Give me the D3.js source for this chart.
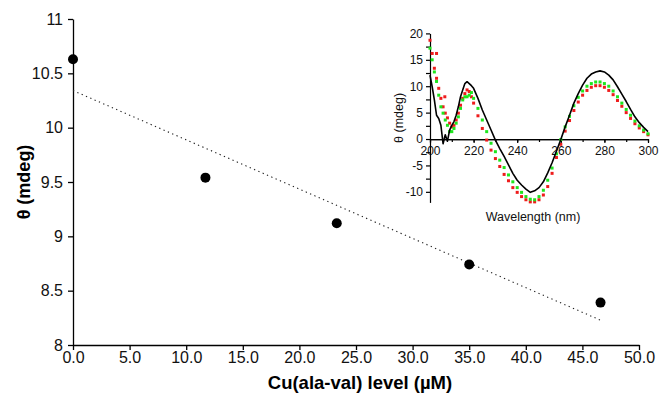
<!DOCTYPE html>
<html>
<head>
<meta charset="utf-8">
<script src="https://cdn.jsdelivr.net/npm/d3@7"></script>
<style>
  body { margin: 0; background: #fff; }
  svg { display: block; font-family: "Liberation Sans", Arial, Helvetica, sans-serif; }
</style>
</head>
<body>
<div id="chart"></div>
<script>
// main chart: theta vs Cu(ala-val) concentration
const concentration = [0, 11.7, 23.3, 35.0, 46.6];
const theta = [10.63, 9.54, 9.12, 8.74, 8.39];
const xTicks = [0, 5, 10, 15, 20, 25, 30, 35, 40, 45, 50];
const yTicks = [8, 8.5, 9, 9.5, 10, 10.5, 11];

// inset: CD spectra
const wavelength = [200, 201, 202, 203, 204, 205, 206, 207, 208, 209, 210, 211, 212, 213, 214, 215, 216, 217, 218, 219, 220,
  222, 224, 226, 228, 230, 232, 234, 236, 238, 240, 242, 244, 246, 248, 250, 252, 254, 256, 258, 260,
  262, 264, 266, 268, 270, 272, 274, 276, 278, 280, 282, 284, 286, 288, 290, 292, 294, 296, 298, 300];
const cdBlack = [12.1, 9.9, 7.4, 4.5, 3.9, 2.6, -0.9, 0.8, -0.4, 1.7, 2.6, 3.3, 4.5, 6.1, 8.0, 9.3, 10.5, 10.85, 10.5, 10.1, 9.6,
  7.7, 5.5, 3.6, 1.7, -0.2, -1.8, -3.3, -4.9, -6.5, -7.8, -8.7, -9.5, -10.1, -9.8, -9.2, -8.1, -6.4, -4.5, -2.3, -0.1,
  2.3, 4.5, 6.8, 8.6, 10.2, 11.5, 12.3, 12.7, 12.9, 12.7, 12.1, 11.2, 9.9, 8.5, 7.1, 5.6, 4.2, 3.1, 2.2, 1.4];
const cdGreen = [17.2, 15, 12.7, 10.9, 8.3, 6.1, 4.9, 3.6, 2.6, 1.4, 1.4, 2, 3, 4.2, 5.8, 7.4, 8, 8, 8.3, 8.8, 7.7,
  5.8, 3.6, 1.4, -0.8, -2.4, -4, -5.4, -6.8, -8.1, -9.2, -10.1, -10.9, -11.4, -11.5, -10.9, -9.7, -7.8, -5.5, -2.8, -0.1,
  2.3, 4.3, 6.3, 7.9, 9.1, 10, 10.5, 10.8, 10.8, 10.5, 10, 9.1, 8, 6.8, 5.6, 4.5, 3.4, 2.5, 1.7, 1.0];
const cdRed = [18.7, 16.2, 13.4, 11.5, 9.6, 7.7, 6.1, 4.9, 4, 3, 2.3, 2.6, 3.6, 4.9, 6.4, 7.7, 8.6, 9.3, 9, 8, 6.8,
  4.4, 2, -0.2, -2.1, -3.7, -5.2, -6.7, -7.9, -9.2, -10.1, -10.9, -11.5, -11.9, -11.9, -11.5, -10.6, -9, -6.5, -3.5, -1,
  1.5, 3.5, 5.4, 7, 8.3, 9.2, 9.8, 10.1, 10.1, 9.8, 9.2, 8.4, 7.3, 6.2, 5, 3.9, 2.9, 2.1, 1.4, 0.8];
const redStrayWl = [203, 206.8];
const redStray = [16.2, 8.0];
const insetXTicks = [200, 220, 240, 260, 280, 300];
const insetYTicks = [-10, -5, 0, 5, 10, 15, 20];

const width = 660, height = 395;

const svg = d3.select('#chart')
  .append('svg')
  .attr('width', width)
  .attr('height', height);

const x = d3.scaleLinear().domain([0, 50]).range([73, 639]);
const y = d3.scaleLinear().domain([8, 11]).range([345, 19]);

// axes
const xAxis = svg.append('g')
  .attr('transform', `translate(0,${y(8)})`)
  .call(d3.axisBottom(x).tickValues(xTicks).tickSize(5).tickSizeOuter(0).tickPadding(2)
    .tickFormat(d3.format('.1f')));

const yAxis = svg.append('g')
  .attr('transform', `translate(${x(0)},0)`)
  .call(d3.axisLeft(y).tickValues(yTicks).tickSize(5).tickSizeOuter(0).tickPadding(5)
    .tickFormat(d => d % 1 ? d.toFixed(1) : d));

[xAxis, yAxis].forEach(g => {
  g.selectAll('path, line').attr('stroke', '#000').attr('stroke-width', 1.3);
  g.selectAll('text').attr('fill', '#111').style('font-size', '16px');
});

// regression line (dotted)
const xm = d3.mean(concentration), ym = d3.mean(theta);
const slope = d3.sum(concentration, (c, i) => (c - xm) * (theta[i] - ym)) /
  d3.sum(concentration, c => (c - xm) * (c - xm));
const icpt = ym - slope * xm;
const xEnd = d3.max(concentration);

svg.append('line')
  .attr('x1', x(0)).attr('y1', y(icpt))
  .attr('x2', x(xEnd)).attr('y2', y(icpt + slope * xEnd))
  .attr('stroke', '#222')
  .attr('stroke-width', 1.1)
  .attr('stroke-dasharray', '1.3,3.4');

svg.selectAll('circle.pt')
  .data(concentration)
  .join('circle')
  .attr('class', 'pt')
  .attr('cx', d => x(d))
  .attr('cy', (d, i) => y(theta[i]))
  .attr('r', 5)
  .attr('fill', '#000');

// titles
svg.append('text')
  .attr('x', 360).attr('y', 389)
  .attr('text-anchor', 'middle')
  .style('font-size', '18.5px').style('font-weight', 'bold')
  .text('Cu(ala-val) level (µM)');

svg.append('text')
  .attr('transform', `translate(30,${y(9.5)}) rotate(-90)`)
  .attr('text-anchor', 'middle')
  .style('font-size', '18px').style('font-weight', 'bold')
  .text('θ (mdeg)');

// ---------- inset ----------
const ix = d3.scaleLinear().domain([200, 300]).range([430, 648]);
const iy = d3.scaleLinear().domain([-12, 20]).range([202.4, 33.4]);
const inset = svg.append('g');

inset.append('g')
  .attr('transform', `translate(0,${iy(0)})`)
  .call(d3.axisBottom(ix).tickValues(d3.range(200, 301, 10)).tickSize(3).tickSizeOuter(0).tickFormat(''));
inset.append('g')
  .attr('transform', `translate(0,${iy(0)})`)
  .call(d3.axisBottom(ix).tickValues(insetXTicks).tickSize(4).tickSizeOuter(0).tickPadding(3));

const iyAxis = inset.append('g')
  .attr('transform', `translate(${ix(200)},0)`);
iyAxis.call(d3.axisLeft(iy).tickValues(d3.range(-10, 20.1, 2.5)).tickSize(4).tickSizeOuter(0)
  .tickFormat(d => insetYTicks.includes(d) ? d : '').tickPadding(3));

inset.selectAll('path, line').attr('stroke', '#000').attr('stroke-width', 1.2);
inset.selectAll('text').attr('fill', '#111').style('font-size', '12px');

inset.append('text')
  .attr('x', 533).attr('y', 221)
  .attr('text-anchor', 'middle')
  .attr('fill', '#111')
  .style('font-size', '12.5px')
  .text('Wavelength (nm)');

inset.append('text')
  .attr('transform', `translate(403,${iy(4)}) rotate(-90)`)
  .attr('text-anchor', 'middle')
  .attr('fill', '#111')
  .style('font-size', '12.5px')
  .text('θ (mdeg)');

const sq = 3;
inset.selectAll('rect.red')
  .data(wavelength.map((w, i) => [w, cdRed[i]]).concat(redStrayWl.map((w, i) => [w, redStray[i]])))
  .join('rect')
  .attr('class', 'red')
  .attr('x', d => ix(d[0]) - sq / 2)
  .attr('y', d => iy(d[1]) - sq / 2)
  .attr('width', sq).attr('height', sq)
  .attr('fill', '#ee1c1c');

inset.selectAll('rect.green')
  .data(wavelength)
  .join('rect')
  .attr('class', 'green')
  .attr('x', d => ix(d) - sq / 2)
  .attr('y', (d, i) => iy(cdGreen[i]) - sq / 2)
  .attr('width', sq).attr('height', sq)
  .attr('fill', '#1ee61e');

const blackLine = d3.line()
  .x(d => ix(d))
  .y((d, i) => iy(cdBlack[i]));

inset.append('path')
  .attr('d', blackLine(wavelength))
  .attr('fill', 'none')
  .attr('stroke', '#000')
  .attr('stroke-width', 1.6)
  .attr('stroke-linejoin', 'round');
</script>
</body>
</html>
